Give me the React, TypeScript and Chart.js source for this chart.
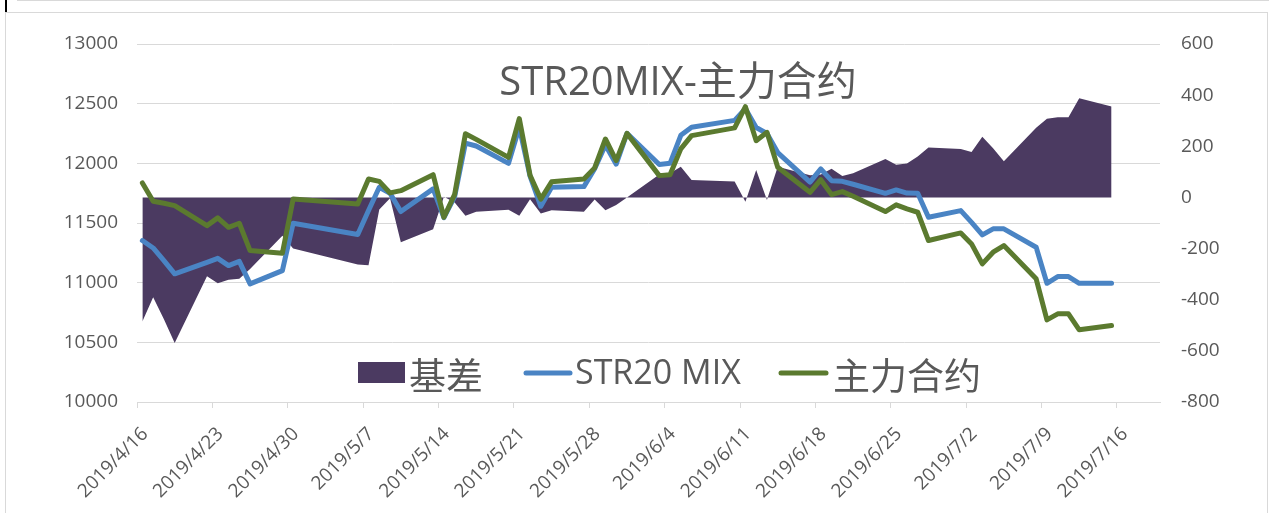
import React, { useEffect, useRef } from 'react';
import { Chart, registerables } from 'chart.js';

Chart.register(...registerables);

// ---- data ----
const dates = [
  '2019/4/16', '2019/4/17', '2019/4/18', '2019/4/19', '2019/4/22', '2019/4/23', '2019/4/24', '2019/4/25', '2019/4/26', '2019/4/29', '2019/4/30',
  '2019/5/6', '2019/5/7', '2019/5/8', '2019/5/9', '2019/5/10', '2019/5/13', '2019/5/14', '2019/5/15', '2019/5/16', '2019/5/17',
  '2019/5/20', '2019/5/21', '2019/5/22', '2019/5/23', '2019/5/24', '2019/5/27', '2019/5/28', '2019/5/29', '2019/5/30', '2019/5/31',
  '2019/6/3', '2019/6/4', '2019/6/5', '2019/6/6', '2019/6/10', '2019/6/11', '2019/6/12', '2019/6/13', '2019/6/14',
  '2019/6/17', '2019/6/18', '2019/6/19', '2019/6/20', '2019/6/21', '2019/6/24', '2019/6/25', '2019/6/26', '2019/6/27', '2019/6/28',
  '2019/7/1', '2019/7/2', '2019/7/3', '2019/7/4', '2019/7/5', '2019/7/8', '2019/7/9', '2019/7/10', '2019/7/11', '2019/7/12', '2019/7/15',
];

const mixValues = [
  11353, 11291, 11185, 11074, 11170, 11204, 11143, 11179, 10990, 11101, 11498,
  11403, 11604, 11799, 11749, 11596, 11786, 11545, 11722, 12170, 12145,
  12000, 12303, 11893, 11640, 11799, 11805, 11954, 12154, 11993, 12251,
  11990, 12000, 12235, 12302, 12360, 12458, 12300, 12250, 12090,
  11843, 11953, 11855, 11849, 11825, 11749, 11777, 11751, 11749, 11548,
  11604, 11505, 11400, 11451, 11451, 11297, 10995, 11051, 11051, 10995, 10995,
];

const mainValues = [
  11836, 11682, 11665, 11646, 11478, 11543, 11464, 11498, 11269, 11246, 11702,
  11660, 11869, 11849, 11752, 11771, 11905, 11548, 11740, 12248, 12201,
  12050, 12375, 11900, 11700, 11845, 11869, 11962, 12204, 12023, 12251,
  11897, 11905, 12121, 12232, 12297, 12475, 12190, 12260, 11967,
  11757, 11863, 11738, 11763, 11724, 11596, 11652, 11618, 11590, 11353,
  11417, 11325, 11157, 11255, 11311, 11032, 10688, 10739, 10739, 10605, 10641,
];

const basisValues = [
  -485, -390, -476, -569, -308, -336, -322, -318, -280, -150, -200,
  -262, -265, -47, -3, -175, -124, 3, -20, -72, -56,
  -48, -72, -7, -63, -50, -56, -8, -50, -30, 0,
  90, 95, 120, 68, 62, -17, 107, -10, 120,
  87, 90, 112, 84, 95, 150, 128, 133, 160, 195,
  189, 178, 237, 192, 141, 272, 308, 314, 314, 388, 356,
];

const xTickLabels = [
  '2019/4/16', '2019/4/23', '2019/4/30', '2019/5/7', '2019/5/14', '2019/5/21', '2019/5/28',
  '2019/6/4', '2019/6/11', '2019/6/18', '2019/6/25', '2019/7/2', '2019/7/9', '2019/7/16',
];
const axisEndDate = '2019/7/20';

const seriesNames = ['基差', 'STR20 MIX', '主力合约'];
const titleText = 'STR20MIX-主力合约';

const COLORS = {
  basis: '#4B3A61',
  mix: '#4A84C4',
  main: '#5B7A2F',
  text: '#595959',
  grid: '#D9D9D9',
};

const DAY = 86400000;
const dayIndex = (s: string) => {
  const [y, m, d] = s.split('/').map(Number);
  return Math.round((Date.UTC(y, m - 1, d) - Date.UTC(2019, 3, 16)) / DAY);
};

const pts = (vals: number[]) => vals.map((v, i) => ({ x: dayIndex(dates[i]) + 0.5, y: v }));

const LATIN = "'Open Sans', 'Noto Sans CJK SC', sans-serif";
const CJK = "'Noto Sans CJK SC', 'Open Sans', sans-serif";

const overlayPlugin = {
  id: 'overlay',
  afterDraw(chart: any) {
    const ctx = chart.ctx as CanvasRenderingContext2D;
    ctx.save();
    // title
    ctx.fillStyle = COLORS.text;
    ctx.font = `40px ${LATIN}`;
    ctx.textAlign = 'center';
    ctx.textBaseline = 'alphabetic';
    ctx.fillText(titleText, 678, 95);

    // legend
    ctx.textAlign = 'left';
    ctx.fillStyle = COLORS.basis;
    ctx.fillRect(358, 362, 47, 21);
    ctx.fillStyle = COLORS.text;
    ctx.font = `37px ${CJK}`;
    ctx.textBaseline = 'middle';
    ctx.fillText(seriesNames[0], 409, 376);

    ctx.lineCap = 'round';
    ctx.lineWidth = 5;
    ctx.strokeStyle = COLORS.mix;
    ctx.beginPath();
    ctx.moveTo(526, 373);
    ctx.lineTo(570, 373);
    ctx.stroke();
    ctx.font = `34px ${LATIN}`;
    ctx.textBaseline = 'alphabetic';
    ctx.fillText(seriesNames[1], 575, 384);

    ctx.strokeStyle = COLORS.main;
    ctx.beginPath();
    ctx.moveTo(781, 373);
    ctx.lineTo(826, 373);
    ctx.stroke();
    ctx.font = `37px ${CJK}`;
    ctx.textBaseline = 'middle';
    ctx.fillText(seriesNames[2], 833, 376);
    ctx.restore();
  },
};

export default function App() {
  const ref = useRef<HTMLCanvasElement | null>(null);

  useEffect(() => {
    if (!ref.current) return;
    const tickFont = { family: LATIN, size: 19 };
    const chart = new Chart(ref.current, {
      type: 'line',
      data: {
        datasets: [
          {
            label: seriesNames[2],
            data: pts(mainValues),
            borderColor: COLORS.main,
            borderWidth: 5,
            pointRadius: 0,
            tension: 0,
            borderJoinStyle: 'round',
            borderCapStyle: 'round',
            yAxisID: 'y',
            order: 1,
            fill: false,
          },
          {
            label: seriesNames[1],
            data: pts(mixValues),
            borderColor: COLORS.mix,
            borderWidth: 5,
            pointRadius: 0,
            tension: 0,
            borderJoinStyle: 'round',
            borderCapStyle: 'round',
            yAxisID: 'y',
            order: 2,
            fill: false,
          },
          {
            label: seriesNames[0],
            data: pts(basisValues),
            borderColor: COLORS.basis,
            backgroundColor: COLORS.basis,
            borderWidth: 0,
            pointRadius: 0,
            tension: 0,
            yAxisID: 'y1',
            order: 3,
            fill: 'origin',
          },
        ],
      },
      options: {
        animation: false,
        responsive: false,
        devicePixelRatio: 1,
        events: [],
        layout: { padding: { top: 44, left: 0, right: 0, bottom: 0 } },
        plugins: {
          legend: { display: false },
          title: { display: false },
          tooltip: { enabled: false },
        },
        scales: {
          x: {
            type: 'linear',
            min: 0,
            max: dayIndex(axisEndDate),
            afterBuildTicks: (axis: any) => {
              axis.ticks = xTickLabels.map((l) => ({ value: dayIndex(l) }));
            },
            afterFit: (s: any) => {
              s.height = 111;
            },
            ticks: {
              autoSkip: false,
              maxRotation: 45,
              minRotation: 45,
              padding: 15,
              labelOffset: 8,
              color: COLORS.text,
              font: tickFont,
              callback: (_v: any, i: number) => xTickLabels[i],
            },
            grid: {
              drawOnChartArea: false,
              drawTicks: true,
              tickLength: 6,
              color: COLORS.grid,
              lineWidth: 1,
            },
            border: { display: true, color: COLORS.grid, width: 1 },
          },
          y: {
            position: 'left',
            min: 10000,
            max: 13000,
            afterFit: (s: any) => {
              s.width = 137;
            },
            ticks: {
              stepSize: 500,
              padding: 19,
              color: COLORS.text,
              font: tickFont,
              callback: (v: any) => String(v),
            },
            grid: { color: COLORS.grid, lineWidth: 1, drawTicks: false },
            border: { display: false },
          },
          y1: {
            position: 'right',
            min: -800,
            max: 600,
            afterFit: (s: any) => {
              s.width = 111;
            },
            ticks: {
              stepSize: 200,
              padding: 21,
              color: COLORS.text,
              font: tickFont,
              callback: (v: any) => String(v),
            },
            grid: { display: false, drawTicks: false },
            border: { display: false },
          },
        },
      },
      plugins: [overlayPlugin],
    } as any);
    return () => chart.destroy();
  }, []);

  return (
    <div style={{ position: 'absolute', left: 0, top: 0, width: 1271, height: 513, background: '#fff', overflow: 'hidden' }}>
      <div style={{ position: 'absolute', left: 17, top: 0, width: 1252, height: 1, background: '#D9D9D9' }} />
      <div style={{ position: 'absolute', left: 5, top: 0, width: 2, height: 12, background: '#000' }} />
      <div style={{ position: 'absolute', left: 5, top: 12, width: 1263, height: 520, border: '1px solid #D9D9D9', boxSizing: 'border-box' }} />
      <canvas ref={ref} width={1271} height={513} style={{ position: 'absolute', left: 0, top: 0, width: 1271, height: 513 }} />
    </div>
  );
}
